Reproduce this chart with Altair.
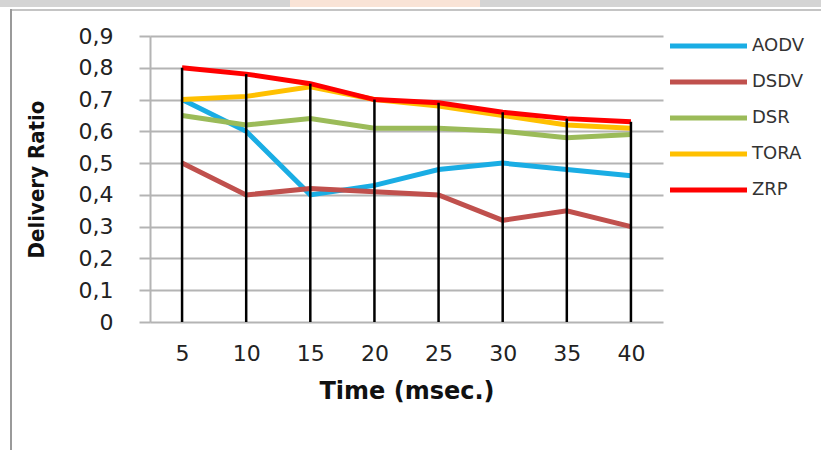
import altair as alt
import pandas as pd

# Delivery ratio of MANET routing protocols over simulation time
times = [5, 10, 15, 20, 25, 30, 35, 40]
protocols = ["AODV", "DSDV", "DSR", "TORA", "ZRP"]
aodv = [0.70, 0.60, 0.40, 0.43, 0.48, 0.50, 0.48, 0.46]
dsdv = [0.50, 0.40, 0.42, 0.41, 0.40, 0.32, 0.35, 0.30]
dsr = [0.65, 0.62, 0.64, 0.61, 0.61, 0.60, 0.58, 0.59]
tora = [0.70, 0.71, 0.74, 0.70, 0.68, 0.65, 0.62, 0.61]
zrp = [0.80, 0.78, 0.75, 0.70, 0.69, 0.66, 0.64, 0.63]
colors = ["#1AADE4", "#C0504D", "#9BBB59", "#FFC000", "#FF0000"]
y_ticks = [0, 0.1, 0.2, 0.3, 0.4, 0.5, 0.6, 0.7, 0.8, 0.9]

series = dict(zip(protocols, [aodv, dsdv, dsr, tora, zrp]))
df = pd.DataFrame(
    [{"time": t, "protocol": p, "ratio": v}
     for p in protocols for t, v in zip(times, series[p])]
)
legend_df = pd.DataFrame({"protocol": protocols})

W, H = 513, 286
PAD = {"left": 150, "top": 36, "right": 158, "bottom": 128}

x_scale = alt.Scale(type="point", padding=0.5)
x_axis = alt.Axis(
    title="Time (msec.)",
    labelAngle=0,
    labelFont="DejaVu Sans",
    labelFontSize=22,
    labelColor="#222222",
    labelPadding=21,
    ticks=False,
    domain=False,
    grid=False,
    titleFont="DejaVu Sans",
    titleFontSize=24,
    titleFontWeight="bold",
    titleColor="#111111",
    titlePadding=15,
)

y_scale = alt.Scale(domain=[0, 0.9], nice=False, zero=True)
y_axis = alt.Axis(
    title="Delivery Ratio",
    values=y_ticks,
    labelOverlap=False,
    labelExpr="datum.value == 0 ? '0' : replace(format(datum.value, '.1f'), '.', ',')",
    labelFont="DejaVu Sans",
    labelFontSize=22,
    labelColor="#222222",
    labelPadding=26,
    tickSize=11,
    tickColor="#B4B4B4",
    tickWidth=2,
    grid=True,
    gridColor="#B4B4B4",
    gridWidth=2,
    domainColor="#B4B4B4",
    domainWidth=2,
    titleFont="DejaVu Sans Condensed",
    titleFontSize=22,
    titleFontWeight="bold",
    titleColor="#111111",
    titlePadding=30,
)

color_enc = alt.Color(
    "protocol:N",
    sort=protocols,
    scale=alt.Scale(domain=protocols, range=colors),
    legend=None,
)

lines = alt.Chart(df).mark_line(strokeWidth=5, clip=False).encode(
    x=alt.X("time:O", sort=times, scale=x_scale, axis=x_axis),
    y=alt.Y("ratio:Q", scale=y_scale, axis=y_axis),
    color=color_enc,
)

# Drop lines from the highest value at each time down to zero
drops = alt.Chart(df).transform_aggregate(
    top="max(ratio)", groupby=["time"]
).mark_rule(color="#000000", strokeWidth=2.5).encode(
    x=alt.X("time:O", sort=times, scale=x_scale, axis=x_axis),
    y=alt.Y("top:Q", scale=y_scale, axis=None),
    y2=alt.datum(0),
)

# Legend at the right: one swatch line and one label per protocol
legend_y = alt.Y(
    "protocol:N",
    sort=protocols,
    scale=alt.Scale(type="point", domain=protocols, range=[10, 154], padding=0),
    axis=None,
)
legend_lines = alt.Chart(legend_df).mark_rule(strokeWidth=5, clip=False).encode(
    x=alt.value(520), x2=alt.value(597), y=legend_y, color=color_enc
)
legend_text = alt.Chart(legend_df).mark_text(
    align="left", baseline="middle", font="DejaVu Sans", fontSize=18,
    color="#333333", clip=False
).encode(x=alt.value(602), y=legend_y, text="protocol:N")

# Page frame: grey strip along the top and a thin border round the figure
strip = alt.Chart(df).mark_rect(color="#D4D4D4", clip=False).encode(
    x=alt.value(-150), x2=alt.value(671), y=alt.value(-36), y2=alt.value(-29)
)
wash = alt.Chart(df).mark_rect(color="#F9E3D6", clip=False).encode(
    x=alt.value(140), x2=alt.value(330), y=alt.value(-36), y2=alt.value(-29)
)
frame_left = alt.Chart(df).mark_rule(color="#9A9A9A", strokeWidth=2, clip=False).encode(
    x=alt.value(-139), y=alt.value(-27), y2=alt.value(420)
)
frame_top = alt.Chart(df).mark_rule(color="#C4C4C4", strokeWidth=2, clip=False).encode(
    x=alt.value(-139), x2=alt.value(671), y=alt.value(-26)
)

chart = alt.layer(
    strip, wash, frame_top, frame_left, lines, drops, legend_lines, legend_text
).resolve_scale(y="independent").properties(
    width=W,
    height=H,
    padding=PAD,
    autosize=alt.AutoSizeParams(type="none"),
    background="#FFFFFF",
).configure_view(stroke=None)

chart.save("out.html", embed_options={"renderer": "svg", "actions": False})
